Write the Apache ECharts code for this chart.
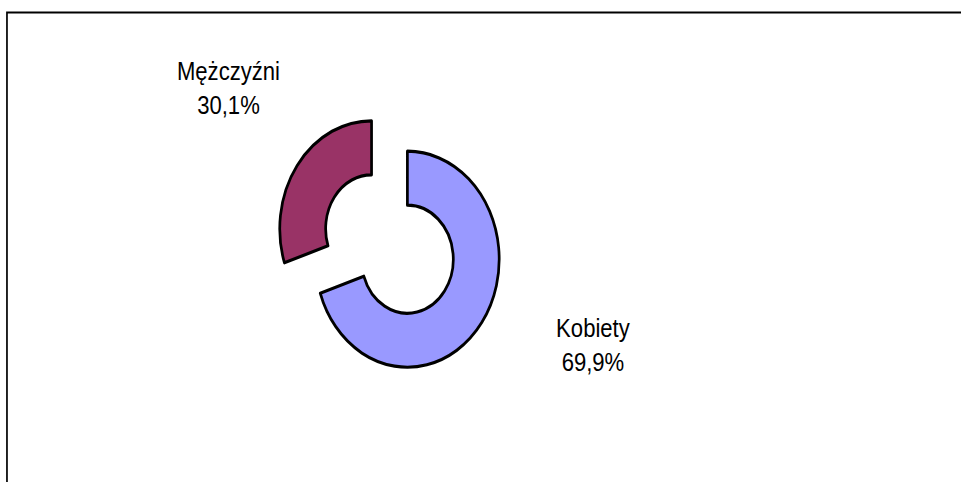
<!DOCTYPE html>
<html>
<head>
<meta charset="utf-8">
<script src="https://cdn.jsdelivr.net/npm/echarts@6/dist/echarts.min.js"></script>
<style>
html, body { margin: 0; padding: 0; background: #fff; overflow: hidden; width: 961px; height: 482px; }
#chart { width: 1131px; height: 482px; transform: scaleX(0.85); transform-origin: 0 0; }
</style>
</head>
<body>
<div id="chart"></div>
<script>
// Data
const categories = ['Kobiety', 'Mężczyźni'];
const values = [69.9, 30.1];
const colors = ['#9999FF', '#993366'];

// Label anchor positions (chart coordinates, before horizontal squeeze)
const labelPos = [[697.6, 344.5], [268.8, 88]];

const chart = echarts.init(document.getElementById('chart'), null, { renderer: 'svg' });

const sliceStyle = c => ({ color: c, borderColor: '#000', borderWidth: 3.2 });

const data = categories.map((c, i) => ({
  name: c,
  value: values[i],
  selected: true,
  itemStyle: sliceStyle(colors[i]),
  select: { itemStyle: sliceStyle(colors[i]) }
}));

const fmt = v => v.toFixed(1).replace('.', ',') + '%';

const labelGraphics = categories.map((c, i) => ({
  type: 'text',
  silent: true,
  style: {
    text: c + '\n' + fmt(values[i]),
    x: labelPos[i][0],
    y: labelPos[i][1],
    align: 'center',
    verticalAlign: 'middle',
    fill: '#000',
    fontSize: 26,
    lineHeight: 34,
    fontFamily: '"Liberation Sans", Arial, sans-serif'
  }
}));

chart.setOption({
  animation: false,
  backgroundColor: '#ffffff',
  graphic: [{
    type: 'polyline',
    silent: true,
    shape: { points: [[8.2, 600], [8.2, 12.5], [1300, 12.5]] },
    style: { fill: 'none', stroke: '#000', lineWidth: 2 }
  }].concat(labelGraphics),
  series: [{
    type: 'pie',
    center: [458.2, 244],
    radius: [54, 108],
    startAngle: 90,
    clockwise: true,
    selectedMode: 'multiple',
    selectedOffset: 26,
    avoidLabelOverlap: false,
    itemStyle: { borderColor: '#000', borderWidth: 3.2 },
    select: { itemStyle: { borderColor: '#000', borderWidth: 3.2 } },
    emphasis: { disabled: true },
    labelLine: { show: false },
    label: { show: false },
    data: data
  }]
});
</script>
</body>
</html>
